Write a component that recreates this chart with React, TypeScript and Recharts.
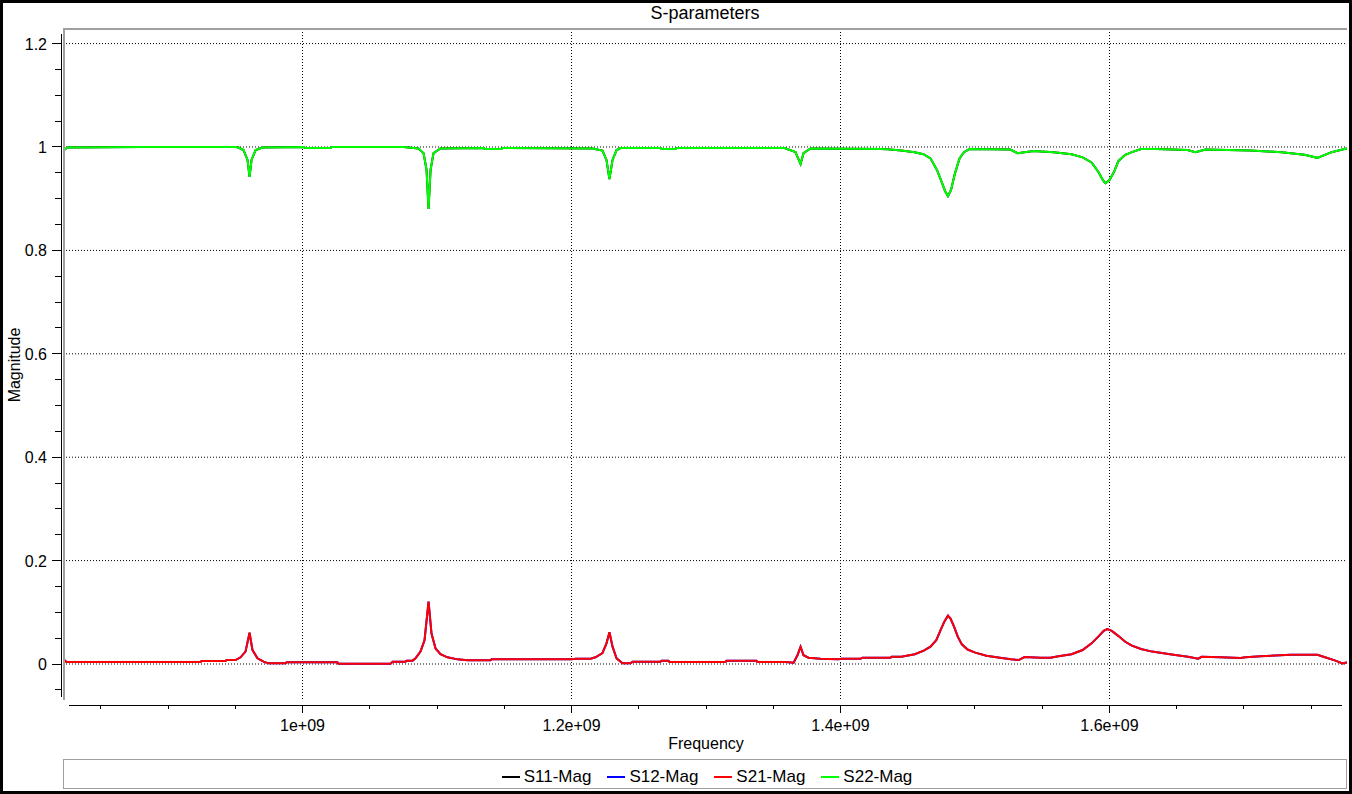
import React from "react";
import { CartesianGrid, Legend, Line, LineChart, XAxis, YAxis } from "recharts";

// S21 trace: [frequency MHz, linear magnitude]
const s21Trace = [
  [822.3, 0.009], [824.5, 0.004], [924.2, 0.004], [924.9, 0.006], [942.8, 0.006], [943.5, 0.0077],
  [950.2, 0.0077], [953.9, 0.013], [957.6, 0.024], [960.6, 0.0605], [962.8, 0.027], [966.5, 0.011],
  [971.0, 0.0045], [974.7, 0.0013], [987.4, 0.0013], [988.1, 0.0032], [1026.0, 0.0032], [1026.7, 0.0006],
  [1065.4, 0.0006], [1067.0, 0.0045], [1076.6, 0.0045], [1077.3, 0.0065], [1081.8, 0.0065], [1084.0, 0.011],
  [1087.7, 0.024], [1090.7, 0.046], [1093.7, 0.1205], [1095.9, 0.059], [1098.9, 0.03], [1102.6, 0.019],
  [1107.8, 0.013], [1115.2, 0.009], [1122.7, 0.0071], [1139.8, 0.0071], [1140.5, 0.009], [1200.0, 0.009],
  [1203.0, 0.0103], [1214.1, 0.0103], [1217.8, 0.013], [1223.0, 0.021], [1226.0, 0.04], [1228.2, 0.0613],
  [1230.5, 0.0335], [1233.5, 0.011], [1237.9, 0.0013], [1243.9, 0.0013], [1245.4, 0.0045], [1266.2, 0.0045],
  [1266.9, 0.0065], [1272.1, 0.0065], [1272.8, 0.0039], [1314.5, 0.0039], [1315.2, 0.0065], [1337.5, 0.0065],
  [1338.2, 0.0039], [1359.1, 0.0039], [1365.1, 0.0026], [1368.0, 0.017], [1370.3, 0.0335], [1372.5, 0.017],
  [1376.2, 0.0123], [1385.1, 0.0103], [1398.5, 0.009], [1400.7, 0.0103], [1414.9, 0.0103], [1416.4, 0.0123],
  [1437.2, 0.0123], [1438.0, 0.014], [1445.2, 0.014], [1455.2, 0.019], [1461.9, 0.026], [1466.9, 0.0335],
  [1471.2, 0.046], [1474.5, 0.066], [1477.2, 0.082], [1479.9, 0.0935], [1481.8, 0.088], [1484.5, 0.072],
  [1487.2, 0.053], [1490.2, 0.038], [1494.5, 0.028], [1500.2, 0.022], [1508.5, 0.016], [1518.5, 0.012],
  [1526.8, 0.009], [1532.5, 0.0077], [1536.8, 0.0135], [1548.7, 0.0123], [1556.1, 0.0123], [1562.1, 0.015],
  [1571.8, 0.019], [1580.0, 0.027], [1586.7, 0.04], [1591.7, 0.053], [1595.7, 0.064], [1598.4, 0.0677],
  [1601.7, 0.064], [1606.7, 0.054], [1611.7, 0.043], [1616.7, 0.0355], [1623.4, 0.029], [1631.7, 0.024],
  [1645.0, 0.019], [1658.3, 0.014], [1666.0, 0.0103], [1668.5, 0.014], [1682.5, 0.013], [1697.4, 0.0116],
  [1701.1, 0.013], [1712.3, 0.015], [1727.1, 0.017], [1734.6, 0.018], [1754.6, 0.018], [1759.1, 0.014],
  [1768.0, 0.0065], [1773.2, 0.0013], [1777.0, 0.003],
];

// S22 trace
const s22Trace = [
  [822.3, 0.993], [825.0, 0.999], [880.0, 1.0], [950.2, 1.0], [952.4, 0.999], [956.1, 0.994],
  [959.1, 0.975], [960.6, 0.942], [962.1, 0.975], [965.1, 0.994], [970.3, 0.999], [1001.0, 1.0],
  [1002.2, 0.998], [1020.8, 0.998], [1021.5, 1.0], [1075.1, 1.0], [1086.2, 0.997], [1090.0, 0.988],
  [1092.2, 0.956], [1093.7, 0.88], [1095.2, 0.956], [1097.4, 0.988], [1102.6, 0.997], [1134.6, 0.998],
  [1135.5, 0.996], [1148.0, 0.996], [1148.7, 0.998], [1215.6, 0.997], [1223.0, 0.993], [1226.0, 0.975],
  [1228.2, 0.938], [1230.5, 0.975], [1233.5, 0.994], [1236.4, 0.998], [1266.2, 0.998], [1267.0, 0.996],
  [1277.3, 0.996], [1278.0, 0.998], [1358.4, 0.998], [1366.5, 0.99], [1370.3, 0.967], [1372.5, 0.988],
  [1377.7, 0.997], [1429.7, 0.996], [1434.9, 0.9955], [1445.2, 0.993], [1455.0, 0.99], [1461.7, 0.986],
  [1466.9, 0.978], [1471.8, 0.955], [1475.1, 0.933], [1477.9, 0.914], [1479.9, 0.905], [1482.2, 0.917],
  [1485.1, 0.949], [1488.5, 0.978], [1491.8, 0.99], [1495.8, 0.996], [1526.4, 0.995], [1531.6, 0.988],
  [1536.8, 0.99], [1543.5, 0.992], [1558.4, 0.99], [1571.8, 0.986], [1580.0, 0.98], [1586.7, 0.97],
  [1591.7, 0.952], [1595.1, 0.936], [1597.0, 0.93], [1600.0, 0.936], [1603.4, 0.952], [1606.7, 0.973],
  [1611.7, 0.985], [1616.7, 0.99], [1623.4, 0.996], [1634.9, 0.996], [1658.0, 0.994], [1663.9, 0.99],
  [1671.4, 0.995], [1704.8, 0.993], [1727.9, 0.99], [1745.0, 0.985], [1754.6, 0.979], [1765.1, 0.99],
  [1774.7, 0.996], [1777.0, 0.997],
];

// S12 is drawn exactly underneath S21, and S11 exactly underneath S22
const s12Trace = s21Trace;
const s11Trace = s22Trace;

const seriesNames = ["S11-Mag", "S12-Mag", "S21-Mag", "S22-Mag"];
const seriesColors = ["#000000", "#0000ff", "#ff0000", "#00ff00"];

const xTicks = [
  850e6, 900e6, 950e6, 1000e6, 1050e6, 1100e6, 1150e6, 1200e6, 1250e6, 1300e6, 1350e6, 1400e6,
  1450e6, 1500e6, 1550e6, 1600e6, 1650e6, 1700e6, 1750e6,
];
const xMajorTicks = [1000e6, 1200e6, 1400e6, 1600e6];
const xTickLabels = ["1e+09", "1.2e+09", "1.4e+09", "1.6e+09"];

const yTicks = [
  -0.05, 0, 0.05, 0.1, 0.15, 0.2, 0.25, 0.3, 0.35, 0.4, 0.45, 0.5, 0.55, 0.6, 0.65, 0.7, 0.75, 0.8,
  0.85, 0.9, 0.95, 1, 1.05, 1.1, 1.15, 1.2,
];
const yMajorTicks = [0, 0.2, 0.4, 0.6, 0.8, 1, 1.2];
const yTickLabels = ["0", "0.2", "0.4", "0.6", "0.8", "1", "1.2"];

const FONT = '"Liberation Sans", Arial, sans-serif';
const W = 1352;
const H = 794;
const PLOT = { left: 63, top: 29, right: 1347, bottom: 700 };

const toPoints = (trace: number[][]) => trace.map(([f, m]) => ({ freq: f * 1e6, mag: m }));

const series = [
  { name: seriesNames[0], color: seriesColors[0], data: toPoints(s11Trace) },
  { name: seriesNames[1], color: seriesColors[1], data: toPoints(s12Trace) },
  { name: seriesNames[2], color: seriesColors[2], data: toPoints(s21Trace) },
  { name: seriesNames[3], color: seriesColors[3], data: toPoints(s22Trace) },
];

function XTick(props: any) {
  const { x, y, payload } = props;
  const i = xMajorTicks.findIndex((v) => Math.abs(v - payload.value) < 1);
  const major = i >= 0;
  return (
    <g>
      <line x1={x} x2={x} y1={y + 5} y2={y + (major ? 13 : 9)} stroke="#000" shapeRendering="crispEdges" />
      {major && (
        <text x={x} y={y + 31} textAnchor="middle" fontSize={16} fontFamily={FONT} fill="#000">
          {xTickLabels[i]}
        </text>
      )}
    </g>
  );
}

function YTick(props: any) {
  const { x, y, payload } = props;
  const i = yMajorTicks.findIndex((v) => Math.abs(v - payload.value) < 1e-6);
  const major = i >= 0;
  return (
    <g>
      <line x1={x - (major ? 11 : 8)} x2={x - 2} y1={y} y2={y} stroke="#000" shapeRendering="crispEdges" />
      {major && (
        <text x={x - 16} y={y + 6} textAnchor="end" fontSize={16} fontFamily={FONT} fill="#000">
          {yTickLabels[i]}
        </text>
      )}
    </g>
  );
}

// axis line + axis title under the plot
function XAxisDecor() {
  return (
    <g>
      <line x1={69} x2={1342} y1={705.5} y2={705.5} stroke="#000" />
      <text x={706} y={749} textAnchor="middle" fontSize={16} fontFamily={FONT} fill="#000">
        Frequency
      </text>
    </g>
  );
}

// y axis line, plot frame, chart title and y title
function YAxisDecor() {
  return (
    <g>
      <line x1={61.5} x2={61.5} y1={34} y2={697} stroke="#000" />
      <rect x={PLOT.left} y={PLOT.top - 1} width={PLOT.right - PLOT.left} height={2} fill="#a0a0a0" />
      <rect x={PLOT.left} y={PLOT.top - 1} width={2} height={PLOT.bottom - PLOT.top + 1} fill="#a0a0a0" />
      <text x={705} y={19} textAnchor="middle" fontSize={18} fontFamily={FONT} fill="#000">
        S-parameters
      </text>
      <text
        x={14}
        y={365}
        transform="rotate(-90 14 365)"
        textAnchor="middle"
        dominantBaseline="central"
        fontSize={16}
        fontFamily={FONT}
        fill="#000"
      >
        Magnitude
      </text>
    </g>
  );
}

function LegendBox(props: any) {
  const items = props.payload || [];
  return (
    <div
      style={{
        height: 30,
        boxSizing: "border-box",
        border: "1px solid #a0a0a0",
        display: "flex",
        alignItems: "center",
        justifyContent: "center",
        paddingTop: 5,
        paddingLeft: 4,
        fontFamily: FONT,
        fontSize: 17,
        color: "#000",
      }}
    >
      {items.map((it: any, i: number) => (
        <div
          key={it.value}
          style={{ display: "flex", alignItems: "center", marginRight: i === items.length - 1 ? 0 : 16 }}
        >
          <svg width={18} height={4}>
            <line x1={0} x2={18} y1={2} y2={2} stroke={it.color} strokeWidth={2} />
          </svg>
          <span style={{ marginLeft: 4 }}>{it.value}</span>
        </div>
      ))}
    </div>
  );
}

export default function App() {
  return (
    <div style={{ position: "absolute", left: 0, top: 0, width: W, height: H, background: "#fff" }}>
      <LineChart width={W} height={H} margin={{ top: PLOT.top, right: W - PLOT.right, bottom: 5, left: 0 }}>
        <CartesianGrid
          stroke="#000"
          strokeDasharray="1 2"
          horizontalValues={yMajorTicks}
          verticalValues={xMajorTicks}
        />
        <XAxis
          type="number"
          dataKey="freq"
          domain={[8.219e8, 1.7766e9]}
          allowDataOverflow
          ticks={xTicks}
          interval={0}
          height={59}
          axisLine={false}
          tickLine={false}
          tickSize={0}
          tickMargin={0}
          tick={<XTick />}
          label={<XAxisDecor />}
        />
        <YAxis
          type="number"
          domain={[-0.0696, 1.2282]}
          allowDataOverflow
          ticks={yTicks}
          interval={0}
          width={63}
          axisLine={false}
          tickLine={false}
          tickSize={0}
          tickMargin={0}
          tick={<YTick />}
          label={<YAxisDecor />}
        />
        <Legend
          verticalAlign="bottom"
          content={<LegendBox />}
          wrapperStyle={{ left: PLOT.left, width: PLOT.right - PLOT.left, bottom: 5 }}
        />
        {series.map((s) => (
          <Line
            key={s.name}
            data={s.data}
            dataKey="mag"
            name={s.name}
            type="linear"
            stroke={s.color}
            strokeWidth={2}
            dot={false}
            activeDot={false}
            isAnimationActive={false}
          />
        ))}
      </LineChart>
      <div
        style={{
          position: "absolute",
          left: 0,
          top: 0,
          width: W,
          height: H,
          boxSizing: "border-box",
          border: "3px solid #000",
          pointerEvents: "none",
        }}
      />
    </div>
  );
}
